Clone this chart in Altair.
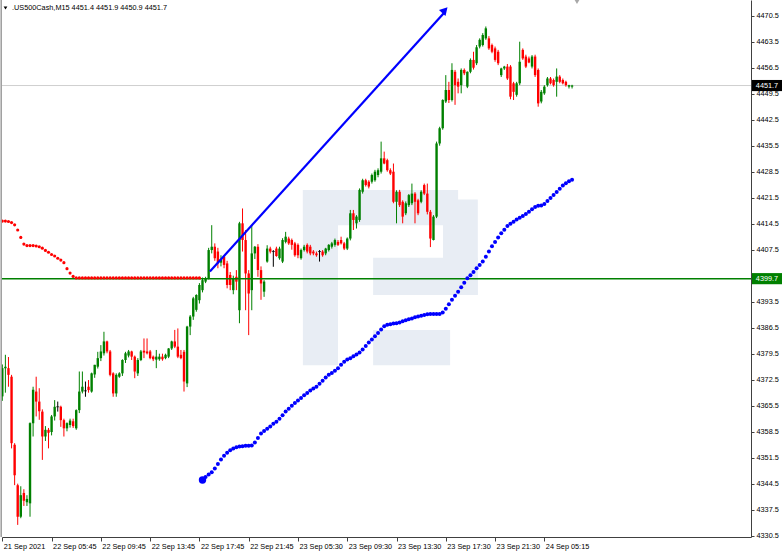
import altair as alt
import pandas as pd

# ---- M15 candles, bar index 0 = 21 Sep 2021 ----
opens = [
    4368.0, 4375.6, 4375.6, 4373.3, 4355.0, 4344.1, 4335.6, 4342.0, 4339.5, 4339.2,
    4360.8, 4369.3, 4366.6, 4363.9, 4357.2, 4359.0, 4358.4, 4362.6, 4365.2, 4365.2,
    4361.6, 4359.4, 4360.3, 4361.3, 4359.4, 4364.3, 4369.3, 4369.5, 4370.6, 4369.3,
    4373.9, 4376.0, 4378.3, 4379.6, 4382.8, 4380.1, 4374.2, 4368.8, 4373.3, 4374.2,
    4377.8, 4379.0, 4380.1, 4378.7, 4374.2, 4377.8, 4380.3, 4380.1, 4380.1, 4378.7,
    4377.9, 4378.0, 4378.7, 4378.3, 4378.7, 4380.9, 4382.8, 4381.4, 4379.2, 4380.0,
    4371.5, 4386.8, 4389.5, 4391.3, 4393.9, 4396.6, 4398.9, 4399.8, 4407.4, 4408.3,
    4407.0, 4404.0, 4405.6, 4403.8, 4400.7, 4396.6, 4400.2, 4391.2, 4414.6, 4410.1,
    4401.1, 4396.6, 4406.5, 4408.3, 4402.0, 4396.2, 4404.3, 4407.8, 4407.0, 4407.8,
    4405.2, 4404.3, 4409.6, 4410.5, 4410.1, 4409.2, 4408.8, 4405.2, 4407.4, 4408.8,
    4408.3, 4407.0, 4406.5, 4407.0, 4407.0, 4406.5, 4407.4, 4408.3, 4408.8, 4409.6,
    4410.1, 4409.2, 4407.8, 4410.5, 4417.3, 4414.6, 4415.5, 4423.1, 4426.2, 4425.8,
    4425.8, 4426.2, 4427.6, 4428.5, 4432.1, 4431.6, 4428.9, 4428.5, 4420.4, 4423.1,
    4420.4, 4417.3, 4419.5, 4420.0, 4422.6, 4420.8, 4420.4, 4424.9, 4422.6, 4417.7,
    4410.1, 4416.4, 4436.1, 4440.2, 4447.4, 4450.5, 4447.8, 4455.4, 4452.7, 4451.8,
    4455.9, 4451.4, 4455.4, 4458.6, 4457.7, 4462.2, 4462.6, 4464.4, 4464.4, 4462.6,
    4461.7, 4460.8, 4454.5, 4456.3, 4456.8, 4456.8, 4452.3, 4449.2, 4452.3, 4461.3,
    4459.5, 4459.0, 4456.8, 4459.5, 4455.9, 4447.4, 4449.6, 4451.8, 4453.6, 4453.2,
    4452.7, 4454.1, 4453.2, 4452.7, 4451.4, 4451.4,
]
highs = [
    4376.6, 4379.2, 4378.6, 4373.8, 4355.4, 4344.5, 4343.8, 4343.0, 4341.4, 4361.0,
    4370.6, 4373.3, 4370.2, 4364.5, 4360.0, 4359.5, 4363.0, 4367.0, 4366.6, 4365.5,
    4362.0, 4361.0, 4362.0, 4362.0, 4364.5, 4374.7, 4374.7, 4372.0, 4372.4, 4374.4,
    4376.5, 4380.0, 4381.8, 4385.4, 4383.0, 4380.5, 4374.5, 4374.2, 4374.5, 4378.0,
    4380.0, 4380.5, 4380.3, 4379.0, 4378.3, 4380.5, 4383.6, 4383.6, 4380.5, 4379.0,
    4380.5, 4379.5, 4379.5, 4379.5, 4381.0, 4383.0, 4385.9, 4386.3, 4380.5, 4380.5,
    4387.0, 4389.9, 4394.8, 4395.5, 4398.5, 4400.0, 4400.2, 4408.0, 4414.1, 4409.2,
    4408.0, 4406.0, 4406.0, 4404.5, 4401.5, 4400.5, 4402.0, 4415.0, 4418.6, 4412.8,
    4402.0, 4414.1, 4408.5, 4409.0, 4403.0, 4399.3, 4408.7, 4408.3, 4407.4, 4408.3,
    4408.3, 4410.6, 4412.3, 4411.0, 4410.5, 4409.6, 4409.2, 4407.8, 4408.8, 4409.2,
    4408.8, 4407.4, 4407.0, 4407.4, 4407.4, 4408.0, 4409.0, 4409.6, 4410.5, 4410.1,
    4411.0, 4409.6, 4410.8, 4418.2, 4418.2, 4416.8, 4424.0, 4426.6, 4426.6, 4426.2,
    4428.0, 4429.0, 4429.4, 4436.6, 4433.9, 4432.0, 4429.4, 4430.7, 4423.5, 4423.6,
    4420.8, 4420.5, 4422.5, 4425.3, 4423.0, 4421.2, 4423.5, 4425.3, 4425.3, 4418.2,
    4416.8, 4436.6, 4440.6, 4448.0, 4454.5, 4452.7, 4457.7, 4455.9, 4453.6, 4456.3,
    4456.3, 4455.5, 4459.0, 4460.8, 4462.6, 4464.4, 4465.8, 4467.6, 4465.0, 4463.0,
    4462.2, 4461.3, 4456.5, 4457.0, 4457.5, 4457.2, 4452.7, 4452.7, 4463.5, 4461.7,
    4460.0, 4459.5, 4459.9, 4460.0, 4456.3, 4450.5, 4451.8, 4454.0, 4454.0, 4453.6,
    4456.3, 4454.5, 4453.6, 4453.0, 4451.9, 4451.9,
]
lows = [
    4366.8, 4369.0, 4370.6, 4354.0, 4344.1, 4333.4, 4335.2, 4338.5, 4338.5, 4335.6,
    4357.2, 4362.6, 4361.7, 4350.9, 4356.0, 4354.0, 4357.5, 4361.5, 4363.9, 4359.8,
    4357.2, 4358.6, 4359.6, 4359.5, 4359.0, 4363.5, 4368.8, 4367.9, 4369.0, 4369.0,
    4373.0, 4375.5, 4377.5, 4379.0, 4379.6, 4373.4, 4367.9, 4367.9, 4373.0, 4373.5,
    4377.0, 4378.5, 4377.8, 4372.9, 4373.5, 4377.5, 4378.3, 4379.3, 4378.0, 4377.5,
    4375.6, 4377.6, 4377.6, 4378.0, 4378.3, 4380.5, 4381.0, 4378.3, 4378.0, 4369.3,
    4370.5, 4384.5, 4388.6, 4390.8, 4393.0, 4396.0, 4398.5, 4399.5, 4406.5, 4404.5,
    4402.5, 4403.0, 4402.5, 4397.1, 4396.6, 4395.5, 4396.6, 4387.7, 4407.0, 4391.2,
    4384.5, 4391.2, 4405.0, 4400.2, 4394.0, 4394.8, 4404.0, 4406.5, 4402.9, 4405.6,
    4404.8, 4403.9, 4409.2, 4408.8, 4407.5, 4405.6, 4405.2, 4404.8, 4407.0, 4406.5,
    4406.0, 4406.0, 4405.6, 4404.3, 4405.6, 4406.0, 4407.0, 4407.8, 4408.3, 4408.5,
    4408.9, 4407.4, 4407.4, 4410.0, 4412.8, 4413.2, 4415.0, 4422.6, 4424.5, 4424.0,
    4425.3, 4425.8, 4427.0, 4428.0, 4430.5, 4428.5, 4427.6, 4420.0, 4414.6, 4419.0,
    4414.6, 4416.8, 4419.0, 4419.5, 4414.6, 4416.8, 4420.0, 4422.2, 4417.0, 4408.2,
    4410.0, 4416.0, 4435.5, 4439.8, 4447.0, 4447.0, 4447.4, 4446.5, 4449.6, 4449.6,
    4454.5, 4451.0, 4455.0, 4456.0, 4457.2, 4461.7, 4462.2, 4464.0, 4461.3, 4460.4,
    4458.1, 4457.2, 4454.0, 4455.9, 4453.2, 4448.0, 4447.8, 4448.7, 4451.8, 4458.6,
    4456.4, 4457.7, 4456.3, 4454.0, 4446.0, 4446.9, 4449.2, 4451.4, 4452.0, 4451.4,
    4448.7, 4452.3, 4452.0, 4451.4, 4450.9, 4450.9,
]
closes = [
    4375.6, 4376.0, 4373.8, 4355.4, 4346.8, 4335.6, 4341.4, 4339.9, 4340.4, 4360.8,
    4369.8, 4366.6, 4364.0, 4357.2, 4359.0, 4358.2, 4362.6, 4365.2, 4365.2, 4361.6,
    4359.4, 4360.8, 4361.5, 4360.0, 4364.3, 4369.3, 4370.6, 4369.5, 4369.7, 4374.2,
    4376.5, 4378.3, 4380.1, 4382.8, 4380.1, 4373.8, 4368.8, 4373.8, 4374.2, 4377.8,
    4379.6, 4380.1, 4378.7, 4374.7, 4377.8, 4380.1, 4379.8, 4379.6, 4378.3, 4378.0,
    4378.7, 4378.7, 4378.0, 4379.2, 4380.9, 4382.8, 4381.4, 4378.7, 4378.3, 4372.0,
    4386.8, 4389.5, 4394.4, 4395.3, 4398.0, 4399.3, 4399.8, 4407.4, 4408.3, 4405.2,
    4403.8, 4405.0, 4403.4, 4398.0, 4398.0, 4399.8, 4398.9, 4414.6, 4410.1, 4401.1,
    4395.7, 4406.5, 4408.3, 4402.0, 4398.4, 4398.9, 4407.8, 4407.0, 4407.0, 4405.8,
    4407.8, 4410.1, 4411.0, 4409.2, 4408.8, 4406.0, 4406.0, 4407.4, 4408.3, 4407.0,
    4406.5, 4406.5, 4406.0, 4407.0, 4406.0, 4407.8, 4408.8, 4409.2, 4410.1, 4408.8,
    4409.2, 4407.8, 4410.5, 4417.3, 4415.5, 4416.4, 4423.6, 4426.2, 4424.9, 4424.5,
    4427.6, 4428.5, 4428.9, 4432.1, 4430.7, 4428.9, 4428.0, 4420.4, 4423.1, 4419.5,
    4416.4, 4420.0, 4422.2, 4422.6, 4420.4, 4417.3, 4423.1, 4422.6, 4417.7, 4410.5,
    4416.4, 4436.1, 4440.2, 4447.8, 4450.5, 4447.8, 4455.9, 4451.8, 4451.4, 4455.9,
    4455.0, 4455.4, 4458.6, 4456.5, 4462.0, 4464.0, 4465.3, 4467.1, 4461.7, 4460.8,
    4458.6, 4457.7, 4456.3, 4456.8, 4453.6, 4448.7, 4450.0, 4452.3, 4458.1, 4459.0,
    4456.8, 4457.9, 4459.5, 4454.5, 4446.9, 4450.0, 4451.4, 4453.6, 4452.3, 4451.8,
    4454.1, 4452.7, 4452.3, 4451.8, 4451.8, 4451.7,
]

# ---- time axis ----
tick_bars = [0, 16, 32, 48, 64, 80, 96, 112, 128, 144, 160, 176]
tick_labels = ["21 Sep 2021", "22 Sep 05:45", "22 Sep 09:45", "22 Sep 13:45",
               "22 Sep 17:45", "22 Sep 21:45", "23 Sep 05:30", "23 Sep 09:30",
               "23 Sep 13:30", "23 Sep 17:30", "23 Sep 21:30", "24 Sep 05:15"]

# ---- price axis ----
price_ticks = [4330.5, 4337.5, 4344.5, 4351.5, 4358.5, 4365.5, 4372.5, 4379.5,
               4386.5, 4393.5, 4400.5, 4407.5, 4414.5, 4421.5, 4428.5, 4435.5,
               4442.5, 4449.5, 4456.5, 4463.5, 4470.5]

# ---- red dotted indicator, bars 0..64 ----
red_dots = [
    4415.2, 4415.2, 4415.1, 4414.8, 4414.2, 4412.8, 4410.8, 4409.0, 4408.6, 4408.6,
    4408.6, 4408.5, 4408.3, 4407.9, 4407.3, 4406.8, 4406.2, 4405.8, 4405.2, 4404.7,
    4404.0, 4402.4, 4401.2, 4400.3, 4399.9, 4399.9, 4399.9, 4399.9, 4399.9, 4399.9,
    4399.9, 4399.9, 4399.9, 4399.9, 4399.9, 4399.9, 4399.9, 4399.9, 4399.9, 4399.9,
    4399.9, 4399.9, 4399.9, 4399.9, 4399.9, 4399.9, 4399.9, 4399.9, 4399.9, 4399.9,
    4399.9, 4399.9, 4399.9, 4399.9, 4399.9, 4399.9, 4399.9, 4399.9, 4399.9, 4399.9,
    4399.9, 4399.9, 4399.9, 4399.9, 4399.9,
]

# ---- blue dotted indicator, starting at bar 65 ----
blue_start = 65
blue_dots = [
    4345.5, 4346.3, 4347.0, 4347.6, 4348.6, 4349.8, 4351.0, 4352.0, 4352.8, 4353.5,
    4354.0, 4354.3, 4354.5, 4354.6, 4354.7, 4354.7, 4354.8, 4355.6, 4356.8, 4358.0,
    4358.7, 4359.3, 4359.9, 4360.6, 4361.2, 4362.0, 4362.9, 4363.9, 4364.7, 4365.5,
    4366.2, 4366.9, 4367.6, 4368.3, 4368.9, 4369.6, 4370.1, 4370.6, 4371.4, 4372.2,
    4373.1, 4373.8, 4374.3, 4374.9, 4375.6, 4376.5, 4377.3, 4377.9, 4378.3, 4378.8,
    4379.3, 4379.8, 4380.6, 4381.6, 4382.5, 4383.3, 4384.2, 4385.1, 4386.0, 4386.9,
    4387.3, 4387.4, 4387.6, 4387.7, 4387.9, 4388.2, 4388.5, 4388.8, 4389.0, 4389.3,
    4389.5, 4389.7, 4389.9, 4390.1, 4390.2, 4390.2, 4390.2, 4390.2, 4390.6, 4391.6,
    4392.8, 4394.0, 4395.1, 4396.2, 4397.4, 4398.6, 4399.8, 4400.6, 4401.5, 4402.5,
    4403.4, 4404.3, 4405.6, 4407.0, 4408.4, 4409.6, 4410.8, 4411.9, 4412.9, 4413.9,
    4414.5, 4415.0, 4415.6, 4416.1, 4416.6, 4417.1, 4417.7, 4418.4, 4419.0, 4419.3,
    4419.4, 4419.8, 4420.6, 4421.4, 4422.2, 4423.0, 4423.9, 4424.8, 4425.4, 4425.9,
    4426.3,
]

# ---- hand-drawn trend arrow ----
trend_bars = [67.4, 143.4]
trend_prices = [4401.6, 4471.2]
arrow_tip_bar = 143.7
arrow_tip_price = 4472.0

support_level = 4399.7
last_price = 4451.7
header = ".US500Cash,M15  4451.4 4451.9 4450.9 4451.7"

# ---- watermark blocks (bar / price units) ----
logo_x0 = [97.6, 97.6, 143.1, 120.4, 120.4]
logo_x1 = [109.0, 148.0, 154.4, 154.4, 145.4]
logo_y0 = [4376.4, 4414.1, 4395.3, 4395.3, 4376.4]
logo_y1 = [4423.6, 4423.6, 4421.0, 4405.3, 4385.9]

FONT = "Liberation Sans"
W, H = 749, 537
GREEN, RED, BLUE = "#008000", "#ff0000", "#0000ff"

xs = alt.Scale(domain=[-0.1, 243.1], nice=False, zero=False, padding=0)
ys = alt.Scale(domain=[4330.14, 4474.73], nice=False, zero=False, padding=0)

candles = pd.DataFrame({"bar": range(len(opens)), "open": opens, "high": highs,
                        "low": lows, "close": closes})
candles["dir"] = ["up" if c > o else ("down" if c < o else "flat")
                  for o, c in zip(opens, closes)]
col = alt.Color("dir:N", scale=alt.Scale(domain=["up", "down", "flat"],
                                         range=[GREEN, RED, "#000000"]), legend=None)

label_expr = ("[" + ",".join(f"'{t}'" for t in tick_labels) + "][indexof(["
              + ",".join(str(b) for b in tick_bars) + "], datum.value)]")

# the price tag for the support level sits on top of this tick's label
hidden_tick = 4400.5
y_label_expr = f"datum.value == {hidden_tick} ? '' : format(datum.value, '.1f')"

x_axis = alt.Axis(values=tick_bars, labelExpr=label_expr, title=None, grid=False,
                  tickSize=4, tickColor="#404040", domainColor="#404040",
                  labelAlign="left", labelBaseline="top", labelPadding=1,
                  labelOffset=1, labelFont=FONT, labelFontSize=7.3,
                  labelColor="#000000", labelFlush=False, labelOverlap=False)
y_axis = alt.Axis(orient="right", values=price_ticks, labelExpr=y_label_expr,
                  title=None, grid=False, tickSize=3, tickColor="#404040",
                  domainColor="#404040", labelPadding=2, labelFont=FONT,
                  labelFontSize=7.3, labelColor="#000000", labelFlush=False,
                  labelOverlap=False)


def X(field):
    return alt.X(field, scale=xs, axis=x_axis)


def Y(field):
    return alt.Y(field, scale=ys, axis=y_axis)


base = alt.Chart(candles)

logo = alt.Chart(pd.DataFrame({"x0": logo_x0, "x1": logo_x1, "y0": logo_y0,
                               "y1": logo_y1})).mark_rect(color="#e8edf4").encode(
    x=X("x0:Q"), x2="x1:Q", y=Y("y0:Q"), y2="y1:Q")

price_line = alt.Chart(pd.DataFrame({"p": [last_price]})).mark_rule(
    color="#cfcfcf", strokeWidth=1).encode(y=Y("p:Q"))

wicks = base.mark_rule(strokeWidth=1).encode(
    x=X("bar:Q"), y=Y("low:Q"), y2="high:Q", color=col)
bodies = base.mark_bar(size=2.4).encode(
    x=X("bar:Q"), y=Y("open:Q"), y2="close:Q", color=col)
dojis = base.transform_filter("datum.open == datum.close").mark_tick(
    orient="horizontal", size=3, thickness=1, color="#000000").encode(
    x=X("bar:Q"), y=Y("open:Q"))

support = alt.Chart(pd.DataFrame({"p": [support_level]})).mark_rule(
    color=GREEN, strokeWidth=1.5).encode(y=Y("p:Q"))

red_df = pd.DataFrame({"bar": range(len(red_dots)), "v": red_dots})
red_layer = alt.Chart(red_df).mark_circle(color=RED, size=10, opacity=1).encode(
    x=X("bar:Q"), y=Y("v:Q"))

blue_df = pd.DataFrame({"bar": range(blue_start, blue_start + len(blue_dots)),
                        "v": blue_dots})
blue_layer = alt.Chart(blue_df).mark_circle(color=BLUE, size=16, opacity=1).encode(
    x=X("bar:Q"), y=Y("v:Q"))
blue_first = alt.Chart(blue_df.head(1)).mark_circle(color=BLUE, size=55, opacity=1).encode(
    x=X("bar:Q"), y=Y("v:Q"))

trend = alt.Chart(pd.DataFrame({"bar": trend_bars, "p": trend_prices})).mark_line(
    color=BLUE, strokeWidth=2.2).encode(x=X("bar:Q"), y=Y("p:Q"))
arrow = alt.Chart(pd.DataFrame({"bar": [arrow_tip_bar], "p": [arrow_tip_price]})).mark_point(
    shape="triangle-up", filled=True, color=BLUE, size=80, angle=43, opacity=1).encode(
    x=X("bar:Q"), y=Y("p:Q"))

# price tags on the right-hand scale
tags = pd.DataFrame({"p": [support_level, last_price], "fill": [GREEN, "#000000"],
                     "txt": [f"{support_level:.1f}", f"{last_price:.1f}"]})
tag_box = alt.Chart(tags).transform_calculate(
    lo="datum.p - 1.5", hi="datum.p + 1.5").mark_rect().encode(
    x=alt.value(750), x2=alt.value(780),
    y=Y("lo:Q"), y2="hi:Q",
    color=alt.Color("fill:N", scale=None, legend=None))
tag_text = alt.Chart(tags).mark_text(color="white", font=FONT, fontSize=7.3,
                                     align="center", baseline="middle").encode(
    x=alt.value(765), y=Y("p:Q"), text="txt:N")

one = pd.DataFrame({"k": [0]})
title_mark = alt.Chart(one).mark_text(font=FONT, fontSize=7.3, color="#000000",
                                      align="left", baseline="middle").encode(
    x=alt.value(10), y=alt.value(8), text=alt.value(header))
title_tri = alt.Chart(one).mark_point(shape="triangle-down", filled=True,
                                      color="#000000", size=14, opacity=1).encode(
    x=alt.value(3.5), y=alt.value(8))
shift_tri = alt.Chart(one).mark_point(shape="triangle-down", filled=True,
                                      color="#a8a8a8", size=36, opacity=1).encode(
    x=alt.value(575), y=alt.value(1.5))
left_edge = alt.Chart(one).mark_rule(color="#9c9c9c", strokeWidth=1.5).encode(
    x=alt.value(-0.8), y=alt.value(0), y2=alt.value(H))

chart = alt.layer(
    logo, price_line, wicks, bodies, dojis, support, red_layer, blue_layer,
    blue_first, trend, arrow, tag_box, tag_text, title_mark, title_tri,
    shift_tri, left_edge,
).properties(
    width=W, height=H,
    autosize=alt.AutoSizeParams(type="none"),
    padding={"left": 2, "top": 0, "right": 31, "bottom": 18},
    background="white",
).configure_view(strokeWidth=0)

chart.save("out.html", embed_options={"renderer": "svg", "actions": False})
